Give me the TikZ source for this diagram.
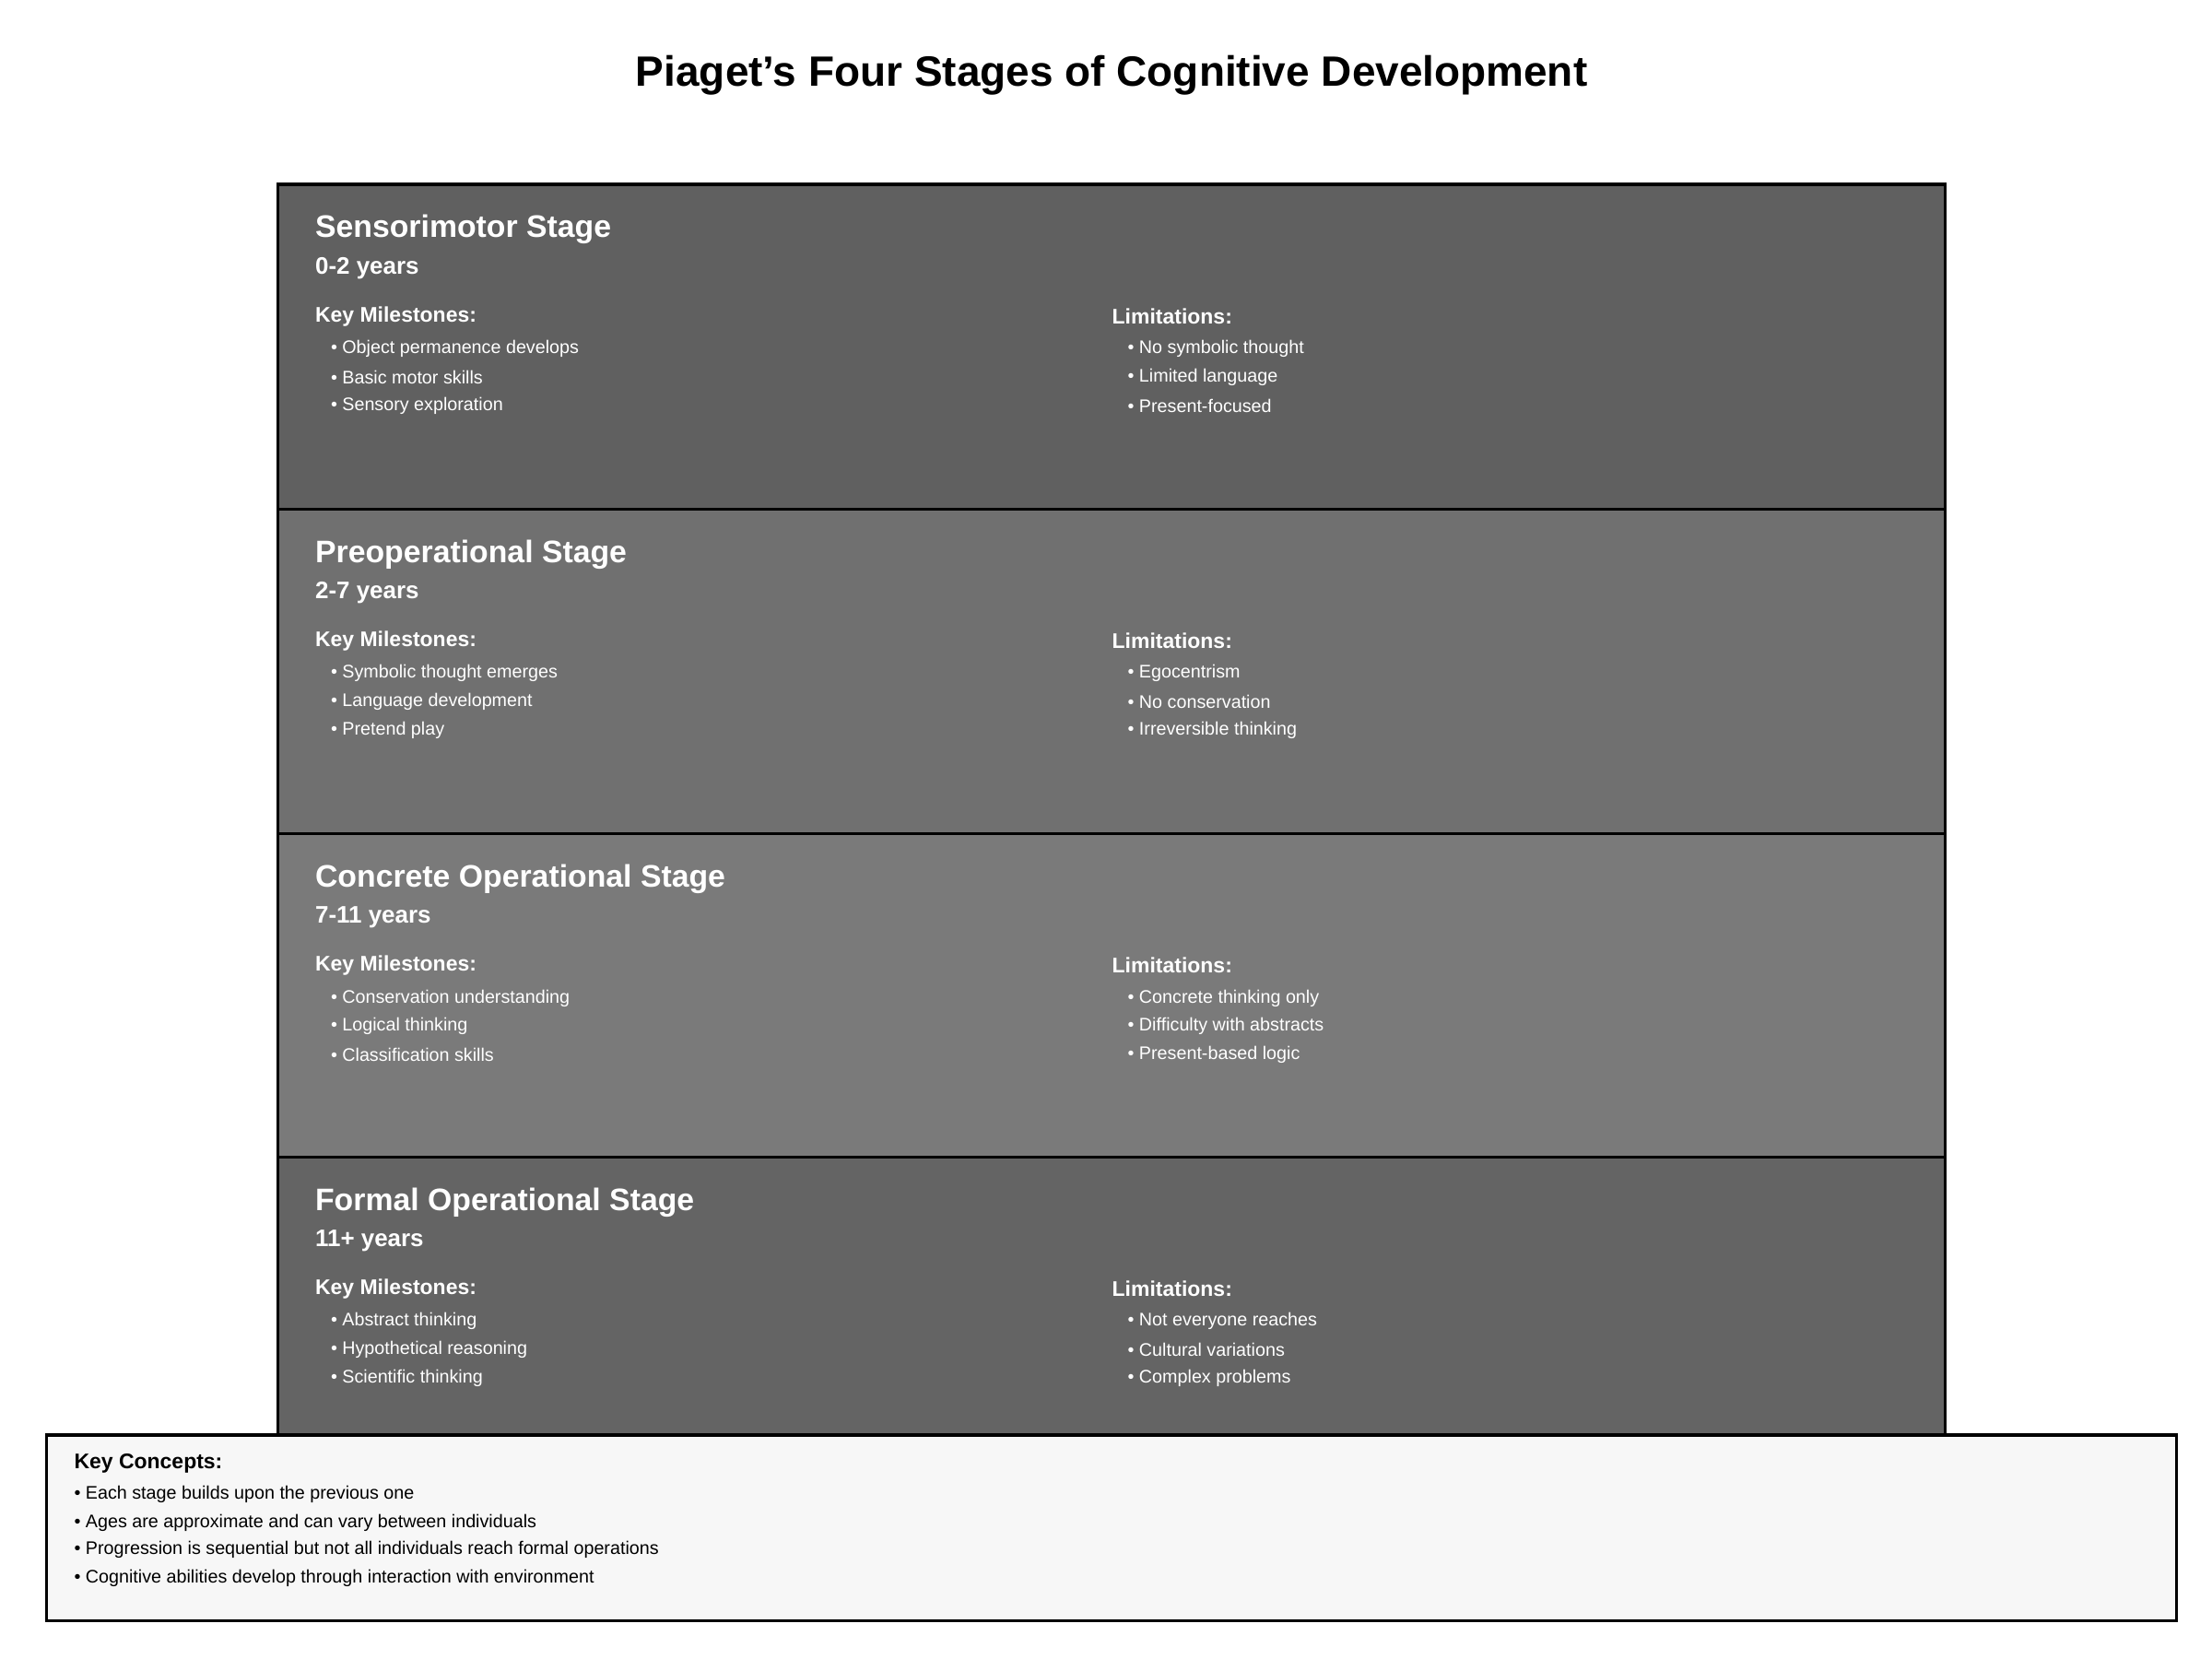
\documentclass[tikz,border=0pt]{standalone}
\usepackage{fontspec}
\setmainfont{Liberation Sans}
\definecolor{stageA}{HTML}{606060}
\definecolor{stageB}{HTML}{707070}
\definecolor{stageC}{HTML}{7A7A7A}
\definecolor{stageD}{HTML}{646464}
\definecolor{notebg}{HTML}{F7F7F7}
\begin{document}
\begin{tikzpicture}[
    x=0.02cm, y=-0.02cm,
    every node/.style={inner sep=0pt, anchor=west},
    band/.style={draw, line width=1.2pt},
    stagetitle/.style={text=white, font=\bfseries\fontsize{12.5}{15}\selectfont},
    stageage/.style={text=white, font=\bfseries\fontsize{9.6}{12}\selectfont},
    colhead/.style={text=white, font=\bfseries\fontsize{8.5}{10}\selectfont},
    item/.style={text=white, font=\fontsize{7.3}{9}\selectfont},
    note/.style={font=\fontsize{7.3}{9}\selectfont},
    ]
\useasboundingbox (0,0) rectangle (1560,1170);
\node[anchor=center, font=\bfseries\fontsize{17}{20}\selectfont] (title) at (784,53) {Piaget's Four Stages of Cognitive Development};
% stages
\foreach \top/\col/\name/\age/\ma/\mb/\mc/\la/\lb/\lc [count=\i] in {
    130/stageA/Sensorimotor Stage/0-2 years/Object permanence develops/Basic motor skills/Sensory exploration/No symbolic thought/Limited language/Present-focused,
    359/stageB/Preoperational Stage/2-7 years/Symbolic thought emerges/Language development/Pretend play/Egocentrism/No conservation/Irreversible thinking,
    588/stageC/Concrete Operational Stage/7-11 years/Conservation understanding/Logical thinking/Classification skills/Concrete thinking only/Difficulty with abstracts/Present-based logic,
    816/stageD/Formal Operational Stage/11+ years/Abstract thinking/Hypothetical reasoning/Scientific thinking/Not everyone reaches/Cultural variations/Complex problems}
{
  \pgfmathsetmacro{\bot}{\top+229}
  \path[band, fill=\col] (196,\top) rectangle (1372,\bot);
  \node[stagetitle] (stage\i) at (222,\top+32) {\name};
  \node[stageage] (age\i) at (222,\top+59) {\age};
  \node[colhead] (miles\i) at (222,\top+93) {Key Milestones:};
  \node[colhead] (limits\i) at (784,\top+93) {Limitations:};
  \node[item] at (233,\top+116) {• \ma};
  \node[item] at (233,\top+136) {• \mb};
  \node[item] at (233,\top+156) {• \mc};
  \node[item] at (795,\top+116) {• \la};
  \node[item] at (795,\top+136) {• \lb};
  \node[item] at (795,\top+156) {• \lc};
}
% key concepts
\path[band, fill=notebg] (33,1012) rectangle (1535,1143);
\node[font=\bfseries\fontsize{8.5}{10}\selectfont] (concepts) at (52,1032) {Key Concepts:};
\node[note] (c1) at (52,1054) {• Each stage builds upon the previous one};
\node[note] (c2) at (52,1074) {• Ages are approximate and can vary between individuals};
\node[note] (c3) at (52,1093) {• Progression is sequential but not all individuals reach formal operations};
\node[note] (c4) at (52,1113) {• Cognitive abilities develop through interaction with environment};
\end{tikzpicture}
\end{document}
